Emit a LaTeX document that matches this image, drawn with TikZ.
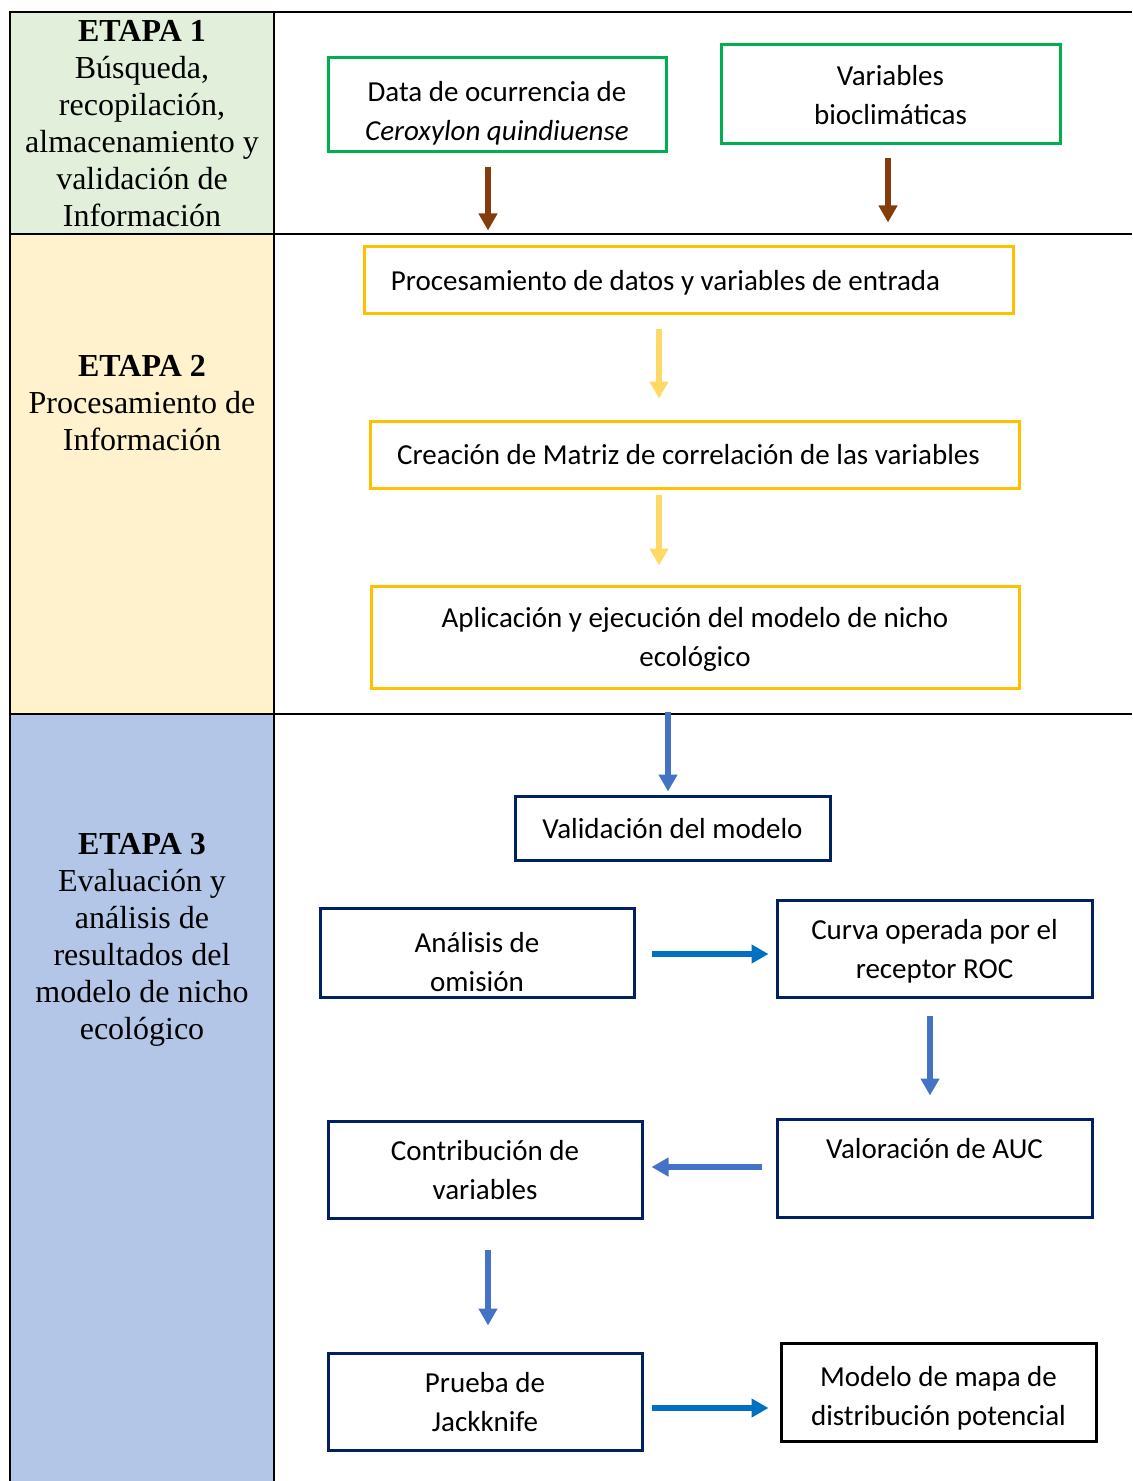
\documentclass[tikz,border=0pt]{standalone}
\usepackage{fontspec}
\setmainfont{Carlito}
\newfontfamily\timesfont{Liberation Serif}
\usetikzlibrary{arrows.meta}

\definecolor{etapaverde}{HTML}{E2EFDA}
\definecolor{etapaamarillo}{HTML}{FFF2CC}
\definecolor{etapaazul}{HTML}{B4C6E7}
\definecolor{verde}{HTML}{00B050}
\definecolor{amarillo}{HTML}{FFC000}
\definecolor{amarilloclaro}{HTML}{FFD966}
\definecolor{marino}{HTML}{002060}
\definecolor{cafe}{HTML}{843C0C}
\definecolor{azul}{HTML}{4472C4}
\definecolor{azulfuerte}{HTML}{0070C0}

\begin{document}
\begin{tikzpicture}[x=0.5pt, y=-0.5pt,
    caja/.style={draw, line width=1.5pt, align=center, inner sep=2pt, text depth=0pt,
      font=\fontsize{14.5}{19.5}\selectfont},
    cajaverde/.style={caja, draw=verde},
    cajaamarilla/.style={caja, draw=amarillo},
    cajamarina/.style={caja, draw=marino},
    etapa/.style={align=center, font=\timesfont\fontsize{16}{18.5}\selectfont},
    flecha/.style={line width=2.8pt, -{Triangle[width=9pt,length=8.5pt]}}]
    \useasboundingbox (0, 0) rectangle (1132, 1481);

    % columna de etapas
    \fill[etapaverde] (10, 12) rectangle (274, 234);
    \fill[etapaamarillo] (10, 234) rectangle (274, 714);
    \fill[etapaazul] (10, 714) rectangle (274, 1481);
    \draw[line width=1pt] (1132, 12) -- (10, 12) -- (10, 1481);
    \draw[line width=1pt] (274, 12) -- (274, 1481);
    \draw[line width=1pt] (10, 234) -- (1132, 234);
    \draw[line width=1pt] (10, 714) -- (1132, 714);

    \node[etapa] (etapa1) at (142, 124)
      {\textbf{ETAPA 1}\\Búsqueda,\\recopilación,\\almacenamiento y\\validación de\\Información};
    \node[etapa] (etapa2) at (142, 403)
      {\textbf{ETAPA 2}\\Procesamiento de\\Información};
    \node[etapa] (etapa3) at (142, 940)
      {\textbf{ETAPA 3}\\Evaluación y\\análisis de\\resultados del\\modelo de nicho\\ecológico};

    % etapa 1
    \node[cajaverde, minimum width=169pt, minimum height=47pt] (datos) at (497, 105)
      {\rule{0pt}{16pt}Data de ocurrencia de\\\textit{Ceroxylon quindiuense}};
    \node[cajaverde, minimum width=169.5pt, minimum height=49.5pt] (vars) at (890.5, 94.5)
      {Variables\\bioclimáticas};

    % etapa 2
    \node[cajaamarilla, minimum width=324.5pt, minimum height=33.5pt] (proc) at (688.5, 280.5)
      {Procesamiento de datos y variables de entrada\hspace*{23pt}};
    \node[cajaamarilla, minimum width=324.5pt, minimum height=33.5pt] (matriz) at (694.5, 454.5)
      {Creación de Matriz de correlación de las variables\hspace*{6pt}};
    \node[cajaamarilla, minimum width=324pt, minimum height=51pt] (aplic) at (695, 637)
      {Aplicación y ejecución del modelo de nicho\\ecológico};

    % etapa 3
    \node[cajamarina, minimum width=157.5pt, minimum height=32pt] (valid) at (672.5, 828)
      {Validación del modelo};
    \node[cajamarina, minimum width=157pt, minimum height=44.5pt] (omision) at (477, 952.5)
      {\rule{0pt}{19pt}Análisis de\\omisión};
    \node[cajamarina, minimum width=157.5pt, minimum height=48.5pt] (roc) at (934.5, 948.5)
      {Curva operada por el\\receptor ROC};
    \node[cajamarina, minimum width=157.5pt, minimum height=49pt] (auc) at (934.5, 1168)
      {Valoración de AUC\\~};
    \node[cajamarina, minimum width=157pt, minimum height=48.5pt] (contrib) at (485, 1169.5)
      {Contribución de\\variables};
    \node[cajamarina, minimum width=157pt, minimum height=48.5pt] (jack) at (485, 1401.5)
      {Prueba de\\Jackknife};
    \node[caja, draw=black, minimum width=157.5pt, minimum height=49pt] (mapa) at (938.5, 1392)
      {\rule{0pt}{14pt}Modelo de mapa de\\distribución potencial};

    % flechas
    \draw[flecha, cafe, shorten <=7pt, shorten >=7.5pt]
      ([xshift=-4.5pt]datos.south) -- ([xshift=-4.5pt]datos.south |- proc.north);
    \draw[flecha, cafe, shorten <=6.5pt, shorten >=11.5pt]
      ([xshift=-1.25pt]vars.south) -- ([xshift=-1.25pt]vars.south |- proc.north);
    \draw[flecha, amarilloclaro, shorten <=7pt, shorten >=10.5pt]
      ([xshift=-14.75pt]proc.south) -- ([xshift=-14.75pt]proc.south |- matriz.north);
    \draw[flecha, amarilloclaro, shorten <=2.5pt, shorten >=9.5pt]
      ([xshift=-17.75pt]matriz.south) -- ([xshift=-17.75pt]matriz.south |- aplic.north);
    \draw[flecha, azul, shorten <=11pt, shorten >=1.5pt]
      ([xshift=-13.5pt]aplic.south) -- ([xshift=-13.5pt]aplic.south |- valid.north);
    \draw[flecha, azulfuerte, shorten <=8pt, shorten >=3.5pt]
      ([yshift=-0.75pt]omision.east) -- ([yshift=-0.75pt]omision.east -| roc.west);
    \draw[flecha, azul, shorten <=8.5pt, shorten >=11pt]
      ([xshift=-2.25pt]roc.south) -- ([xshift=-2.25pt]roc.south |- auc.north);
    \draw[flecha, azul, shorten <=7pt, shorten >=4pt]
      ([yshift=0.5pt]auc.west) -- ([yshift=0.5pt]auc.west -| contrib.east);
    \draw[flecha, azul, shorten <=15pt, shorten >=13pt]
      ([xshift=1.5pt]contrib.south) -- ([xshift=1.5pt]contrib.south |- jack.north);
    \draw[flecha, azulfuerte, shorten <=4pt, shorten >=5.5pt]
      ([yshift=-3.25pt]jack.east) -- ([yshift=-3.25pt]jack.east -| mapa.west);
\end{tikzpicture}
\end{document}
